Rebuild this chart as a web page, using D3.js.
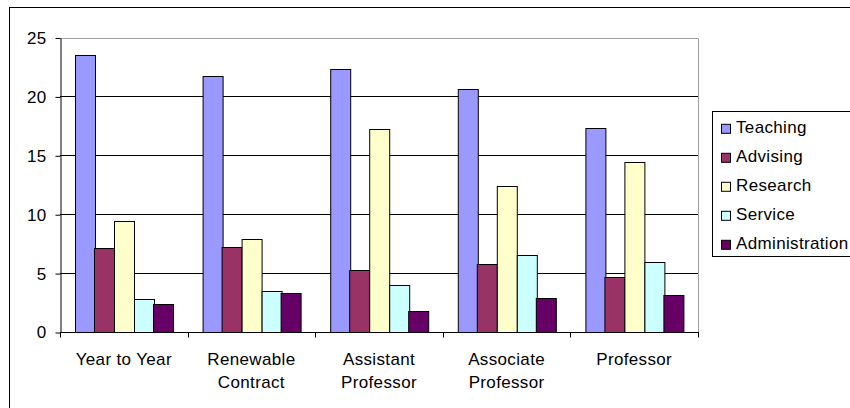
<!DOCTYPE html>
<html>
<head>
<meta charset="utf-8">
<script src="https://cdn.jsdelivr.net/npm/d3@7"></script>
<style>
  html, body { margin: 0; padding: 0; background: #fff; }
  svg { display: block; }
  text { font-family: "Liberation Sans", Arial, sans-serif; font-size: 17px; letter-spacing: 0.35px; fill: #000; }
</style>
</head>
<body>
<svg id="chart" width="850" height="408"></svg>
<script>
// Faculty workload by appointment type (share of effort per activity)
const categories = [
  ["Year to Year"],
  ["Renewable", "Contract"],
  ["Assistant", "Professor"],
  ["Associate", "Professor"],
  ["Professor"]
];
const seriesNames = ["Teaching", "Advising", "Research", "Service", "Administration"];
const teaching       = [23.5, 21.7, 22.3, 20.6, 17.3];
const advising       = [7.1, 7.2, 5.3, 5.8, 4.7];
const research       = [9.4, 7.9, 17.2, 12.4, 14.4];
const service        = [2.8, 3.5, 4.0, 6.5, 5.9];
const administration = [2.4, 3.3, 1.8, 2.9, 3.1];
const yTicks = [0, 5, 10, 15, 20, 25];
const colors = ["#9999FF", "#993366", "#FFFFCC", "#CCFFFF", "#660066"];

const seriesValues = [teaching, advising, research, service, administration];
const catKeys = categories.map(c => c.join(" "));

const svg = d3.select("#chart");

// outer chart frame
svg.append("rect")
  .attr("x", 9.5).attr("y", 7.5)
  .attr("width", 900).attr("height", 500)
  .attr("fill", "#fff").attr("stroke", "#000");

const plot = { left: 60, right: 698, top: 37.5, bottom: 332 };

const x = d3.scaleBand().domain(catKeys).range([plot.left, plot.right]);
const xs = d3.scaleBand().domain(seriesNames).range([0, x.bandwidth()])
  .paddingInner(0).paddingOuter(0.75);
const y = d3.scaleLinear().domain([0, 25]).range([plot.bottom, plot.top]);

const crisp = v => Math.round(v) + 0.5;

// horizontal gridlines
svg.append("g").selectAll("line")
  .data(yTicks.filter(t => t > 0))
  .join("line")
  .attr("x1", plot.left).attr("x2", plot.right)
  .attr("y1", d => crisp(y(d))).attr("y2", d => crisp(y(d)))
  .attr("stroke", d => d === 25 ? "#a0a0a0" : "#000");

// right edge of the plot area
svg.append("line")
  .attr("x1", crisp(plot.right)).attr("x2", crisp(plot.right))
  .attr("y1", crisp(y(25))).attr("y2", crisp(y(0)))
  .attr("stroke", "#a0a0a0");

// bars
const groups = svg.append("g").selectAll("g")
  .data(catKeys)
  .join("g")
  .attr("transform", d => `translate(${x(d)},0)`);

groups.selectAll("rect")
  .data((d, ci) => seriesNames.map((s, si) => ({ s, si, v: seriesValues[si][ci] })))
  .join("rect")
  .attr("x", d => Math.round(xs(d.s)) + 0.5)
  .attr("width", d => Math.round(xs.bandwidth()))
  .attr("y", d => crisp(y(d.v)))
  .attr("height", d => crisp(y(0)) - crisp(y(d.v)))
  .attr("fill", d => colors[d.si])
  .attr("stroke", "#000");

// y axis
const yAxis = d3.axisLeft(y).tickValues(yTicks).tickSize(5).tickPadding(9).tickSizeOuter(0);
const gy = svg.append("g")
  .attr("transform", `translate(${crisp(plot.left)},0.5)`)
  .call(yAxis);
gy.select(".domain").attr("stroke", "#000");
gy.selectAll(".tick line").attr("stroke", "#000");
gy.selectAll(".tick text")
  .attr("font-family", "Liberation Sans, Arial, sans-serif")
  .attr("font-size", 17).attr("fill", "#000");

// x axis with tick marks between categories
const xAxisG = svg.append("g");
xAxisG.append("line")
  .attr("x1", plot.left).attr("x2", plot.right + 1)
  .attr("y1", crisp(y(0))).attr("y2", crisp(y(0)))
  .attr("stroke", "#000");
const boundaries = catKeys.map(k => x(k)).concat([x(catKeys[catKeys.length - 1]) + x.bandwidth()]);
xAxisG.selectAll("line.tk")
  .data(boundaries)
  .join("line")
  .attr("class", "tk")
  .attr("x1", d => crisp(d)).attr("x2", d => crisp(d))
  .attr("y1", crisp(y(0))).attr("y2", crisp(y(0)) + 5)
  .attr("stroke", "#000");

// category labels (wrapped)
const labels = xAxisG.selectAll("text.cat")
  .data(categories)
  .join("text")
  .attr("class", "cat")
  .attr("text-anchor", "middle")
  .attr("y", 365);
labels.selectAll("tspan")
  .data((d, i) => d.map(line => ({ line, cx: x(catKeys[i]) + x.bandwidth() / 2 })))
  .join("tspan")
  .attr("x", d => d.cx)
  .attr("dy", (d, i) => i === 0 ? 0 : 22.7)
  .text(d => d.line);

// legend
const legend = svg.append("g");
legend.append("rect")
  .attr("x", 712.5).attr("y", 111.5)
  .attr("width", 200).attr("height", 145)
  .attr("fill", "#fff").attr("stroke", "#000");
const items = legend.selectAll("g.item")
  .data(seriesNames)
  .join("g")
  .attr("class", "item")
  .attr("transform", (d, i) => `translate(0,${133.3 + i * 29})`);
items.append("rect")
  .attr("x", 721.5).attr("y", -9)
  .attr("width", 9).attr("height", 9)
  .attr("fill", (d, i) => colors[i]).attr("stroke", "#000");
items.append("text")
  .attr("x", 736)
  .attr("y", 0)
  .text(d => d);
</script>
</body>
</html>
